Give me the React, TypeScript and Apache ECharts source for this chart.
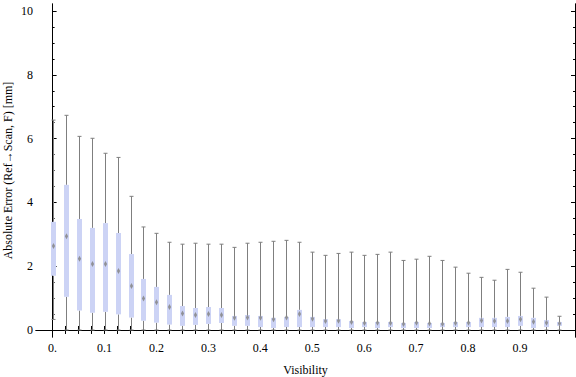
import React, { useEffect, useRef } from "react";
import * as echarts from "echarts";

const visibility = [
  0, 0.025, 0.05, 0.075, 0.1, 0.125, 0.15, 0.175, 0.2, 0.225,
  0.25, 0.275, 0.3, 0.325, 0.35, 0.375, 0.4, 0.425, 0.45, 0.475,
  0.5, 0.525, 0.55, 0.575, 0.6, 0.625, 0.65, 0.675, 0.7, 0.725,
  0.75, 0.775, 0.8, 0.825, 0.85, 0.875, 0.9, 0.925, 0.95, 0.975,
];

const whiskerHigh = [
  6.58, 6.73, 6.07, 6.01, 5.54, 5.41, 4.19, 3.23, 3.03, 2.75,
  2.69, 2.72, 2.69, 2.69, 2.59, 2.72, 2.75, 2.78, 2.81, 2.75,
  2.44, 2.34, 2.40, 2.44, 2.34, 2.37, 2.44, 2.18, 2.22, 2.31,
  2.18, 1.97, 1.78, 1.65, 1.56, 1.90, 1.81, 1.31, 1.03, 0.43,
];

const upperQuartile = [
  3.39, 4.55, 3.48, 3.20, 3.35, 3.04, 2.38, 1.60, 1.35, 1.10,
  0.75, 0.69, 0.72, 0.69, 0.44, 0.47, 0.44, 0.38, 0.41, 0.63,
  0.41, 0.34, 0.34, 0.28, 0.25, 0.25, 0.25, 0.22, 0.25, 0.22,
  0.22, 0.25, 0.25, 0.38, 0.38, 0.41, 0.44, 0.38, 0.31, 0.25,
];

const medians = [
  2.63, 2.94, 2.23, 2.07, 2.07, 1.85, 1.38, 0.99, 0.87, 0.72,
  0.52, 0.47, 0.50, 0.47, 0.38, 0.39, 0.38, 0.34, 0.39, 0.50,
  0.35, 0.28, 0.29, 0.25, 0.22, 0.23, 0.22, 0.19, 0.23, 0.20,
  0.19, 0.22, 0.23, 0.30, 0.28, 0.28, 0.34, 0.26, 0.23, 0.20,
];

const lowerQuartile = [
  1.70, 1.04, 0.61, 0.54, 0.57, 0.49, 0.39, 0.29, 0.23, 0.17,
  0.13, 0.16, 0.19, 0.22, 0.13, 0.13, 0.09, 0.06, 0.09, 0.09,
  0.09, 0.09, 0.09, 0.06, 0.09, 0.06, 0.09, 0.06, 0.06, 0.06,
  0.09, 0.09, 0.09, 0.09, 0.09, 0.09, 0.13, 0.06, 0.09, 0.13,
];

const whiskerLow = [
  0.33, 0, 0, 0, 0, 0, 0, 0, 0, 0,
  0, 0, 0, 0, 0, 0, 0, 0, 0, 0,
  0, 0, 0, 0, 0, 0, 0, 0, 0, 0,
  0, 0, 0, 0, 0, 0, 0, 0, 0, 0,
];

const xLabelValues = [0, 0.1, 0.2, 0.3, 0.4, 0.5, 0.6, 0.7, 0.8, 0.9];
const xLabelTexts = ["0.", "0.1", "0.2", "0.3", "0.4", "0.5", "0.6", "0.7", "0.8", "0.9"];
const yMajorTicks = [0, 2, 4, 6, 8, 10];
const yMinorTicks = [
  0, 0.5, 1, 1.5, 2, 2.5, 3, 3.5, 4, 4.5, 5, 5.5, 6, 6.5, 7, 7.5, 8, 8.5, 9, 9.5, 10,
];

const FONT = "'Liberation Serif', 'Times New Roman', serif";
const BOX_COLOR = "#ccd3f5";
const WHISKER_COLOR = "#7f7f7f";

export default function App() {
  const ref = useRef<HTMLDivElement>(null);

  useEffect(() => {
    if (!ref.current) return;
    const chart = echarts.init(ref.current, undefined, { renderer: "svg" });

    const data = visibility.map((v, i) => [
      v,
      whiskerLow[i],
      lowerQuartile[i],
      medians[i],
      upperQuartile[i],
      whiskerHigh[i],
    ]);

    const lineAx = { show: true, lineStyle: { color: "#000", width: 1 } };
    const yBase = {
      type: "value",
      min: -0.22,
      max: 10.22,
      offset: 0,
      axisLine: lineAx,
      splitLine: { show: false },
      axisLabel: { show: false },
    };

    const option: any = {
      animation: false,
      backgroundColor: "#fff",
      grid: {
        left: 36,
        right: 1,
        top: 4,
        bottom: 40,
        containLabel: false,
        outerBoundsMode: "none",
      },
      xAxis: [
        {
          type: "value",
          position: "bottom",
          min: -0.032,
          max: 1.006,
          axisLine: lineAx,
          splitLine: { show: false },
          axisTick: {
            show: true,
            inside: true,
            length: 4,
            customValues: visibility,
            lineStyle: { color: "#000" },
          },
          axisLabel: {
            show: true,
            customValues: xLabelValues,
            margin: 5,
            fontFamily: FONT,
            fontSize: 12,
            color: "#000",
            formatter: (val: number) => {
              const idx = xLabelValues.findIndex((x) => Math.abs(x - val) < 1e-6);
              return idx >= 0 ? xLabelTexts[idx] : "";
            },
          },
          name: "Visibility",
          nameLocation: "middle",
          nameGap: 27,
          nameMoveOverlap: false,
          nameTextStyle: { fontFamily: FONT, fontSize: 12, color: "#000" },
        },
        {
          type: "value",
          position: "top",
          min: -0.032,
          max: 1.006,
          offset: 0,
          axisLine: lineAx,
          splitLine: { show: false },
          axisTick: {
            show: true,
            inside: true,
            length: 4,
            customValues: visibility,
            lineStyle: { color: "#000" },
          },
          axisLabel: { show: false },
        },
      ],
      yAxis: [
        {
          ...yBase,
          position: "left",
          axisTick: {
            show: true,
            inside: true,
            length: 4,
            customValues: yMajorTicks,
            lineStyle: { color: "#000" },
          },
          axisLabel: {
            show: true,
            customValues: yMajorTicks,
            margin: 3,
            fontFamily: FONT,
            fontSize: 12,
            color: "#000",
          },
          name: "Absolute Error (Ref→Scan, F) [mm]",
          nameLocation: "middle",
          nameGap: 22,
          nameRotate: 90,
          nameMoveOverlap: false,
          nameTextStyle: { fontFamily: FONT, fontSize: 12, color: "#000" },
        },
        {
          ...yBase,
          position: "left",
          axisTick: {
            show: true,
            inside: true,
            length: 2,
            customValues: yMinorTicks,
            lineStyle: { color: "#000" },
          },
        },
        {
          ...yBase,
          position: "right",
          axisTick: {
            show: true,
            inside: true,
            length: 4,
            customValues: yMajorTicks,
            lineStyle: { color: "#000" },
          },
        },
        {
          ...yBase,
          position: "right",
          axisTick: {
            show: true,
            inside: true,
            length: 2,
            customValues: yMinorTicks,
            lineStyle: { color: "#000" },
          },
        },
      ],
      series: [
        {
          type: "custom",
          xAxisIndex: 0,
          yAxisIndex: 0,
          data,
          renderItem: (_params: any, api: any) => {
            const x = api.value(0);
            const lo = api.coord([x, api.value(1)]);
            const q1 = api.coord([x, api.value(2)]);
            const med = api.coord([x, api.value(3)]);
            const q3 = api.coord([x, api.value(4)]);
            const hi = api.coord([x, api.value(5)]);
            const cx = Math.round(lo[0]) + 0.5;
            const boxW = 5;
            const capW = 4;
            const wStyle = { stroke: WHISKER_COLOR, lineWidth: 1 };
            return {
              type: "group",
              children: [
                {
                  type: "line",
                  shape: { x1: cx, y1: hi[1], x2: cx, y2: q3[1] },
                  style: wStyle,
                },
                {
                  type: "line",
                  shape: { x1: cx, y1: q1[1], x2: cx, y2: lo[1] },
                  style: wStyle,
                },
                {
                  type: "line",
                  shape: { x1: cx - capW / 2, y1: hi[1], x2: cx + capW / 2, y2: hi[1] },
                  style: wStyle,
                },
                {
                  type: "line",
                  shape: { x1: cx - capW / 2, y1: lo[1], x2: cx + capW / 2, y2: lo[1] },
                  style: wStyle,
                },
                {
                  type: "rect",
                  shape: { x: cx - boxW / 2, y: q3[1], width: boxW, height: q1[1] - q3[1] },
                  style: { fill: BOX_COLOR },
                },
                {
                  type: "polygon",
                  shape: {
                    points: [
                      [cx, med[1] - 3],
                      [cx + 1.6, med[1]],
                      [cx, med[1] + 3],
                      [cx - 1.6, med[1]],
                    ],
                  },
                  style: { fill: "#858585", opacity: 0.85 },
                },
              ],
            };
          },
        },
      ],
    };

    chart.setOption(option);
    return () => chart.dispose();
  }, []);

  return (
    <div
      ref={ref}
      style={{ position: "fixed", left: 0, top: 0, width: 576, height: 377 }}
    />
  );
}
